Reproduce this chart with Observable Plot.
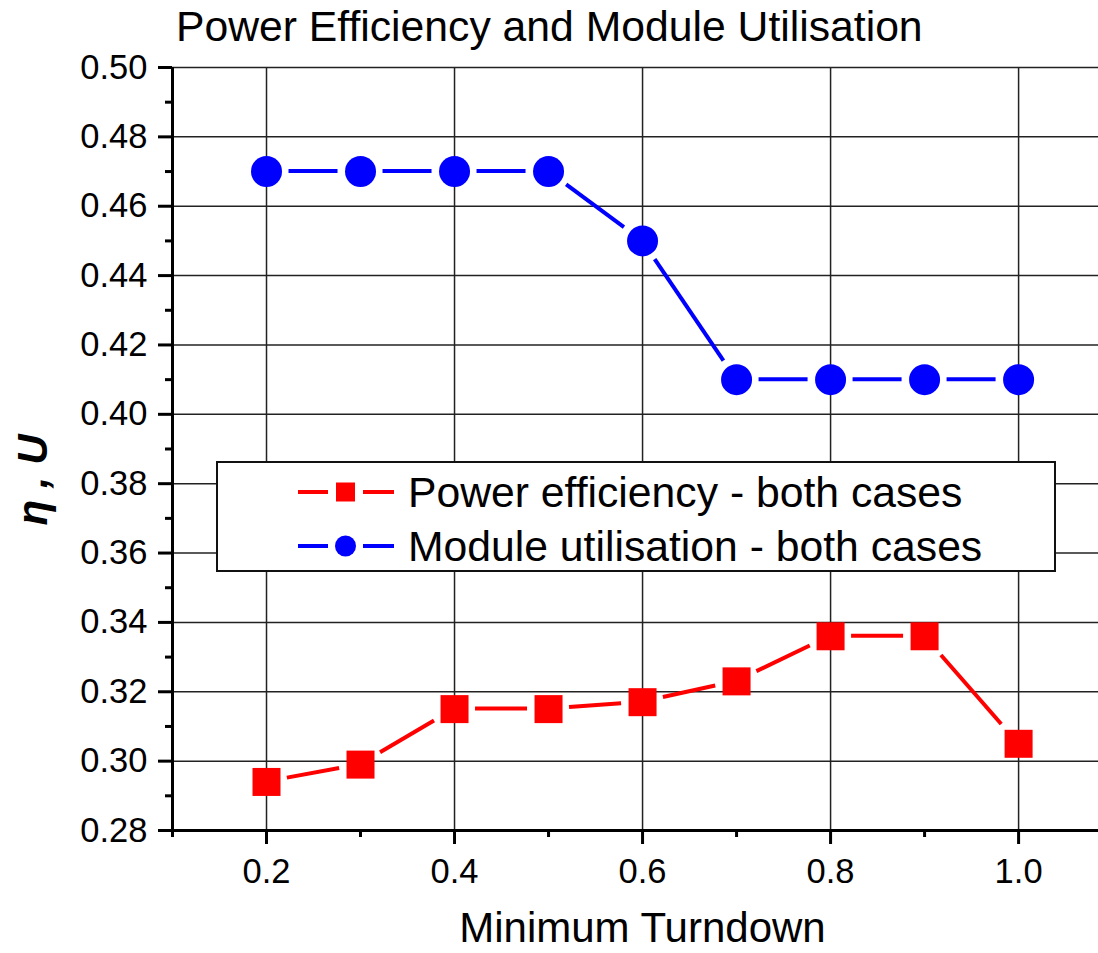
<!DOCTYPE html>
<html><head><meta charset="utf-8">
<script src="https://cdn.jsdelivr.net/npm/d3@7"></script>
<script src="https://cdn.jsdelivr.net/npm/@observablehq/plot@0.6"></script>
<style>
body{margin:0;background:#fff;}
#wrap{position:relative;width:1098px;height:953px;overflow:hidden;font-family:"Liberation Sans",Arial,sans-serif;background:#fff;}
#title{position:absolute;left:176px;top:5px;font-size:42.7px;line-height:1;white-space:nowrap;color:#000;}
#chart{position:absolute;left:0;top:55px;}
#overlay{position:absolute;left:0;top:0;pointer-events:none;}
</style></head><body>
<div id="wrap">
  <div id="title">Power Efficiency and Module Utilisation</div>
  <div id="chart"></div>
  <svg id="overlay" width="1098" height="953" xmlns="http://www.w3.org/2000/svg"></svg>
</div>
<script>
// ---- data ----
const turndown = [0.2, 0.3, 0.4, 0.5, 0.6, 0.7, 0.8, 0.9, 1.0];
const powerEfficiency = [0.294, 0.299, 0.315, 0.315, 0.317, 0.323, 0.336, 0.336, 0.305];
const moduleUtilisation = [0.47, 0.47, 0.47, 0.47, 0.45, 0.41, 0.41, 0.41, 0.41];
const seriesNames = ["Power efficiency - both cases", "Module utilisation - both cases"];
const xMajorTicks = [0.2, 0.4, 0.6, 0.8, 1.0];
const xMinorTicks = [0.1, 0.3, 0.5, 0.7, 0.9];
const yMajorTicks = [0.28, 0.30, 0.32, 0.34, 0.36, 0.38, 0.40, 0.42, 0.44, 0.46, 0.48, 0.50];
const yMinorTicks = [0.29, 0.31, 0.33, 0.35, 0.37, 0.39, 0.41, 0.43, 0.45, 0.47, 0.49];
const yGrid = [0.30, 0.32, 0.34, 0.36, 0.38, 0.40, 0.42, 0.44, 0.46, 0.48, 0.50];
const titleText = "Power Efficiency and Module Utilisation";
const xLabel = "Minimum Turndown";
const yLabel = "η , U";

const rows = turndown.map((t, i) => ({t, pe: powerEfficiency[i], mu: moduleUtilisation[i]}));
const RED = "#ff0000", BLUE = "#0000ff";
const NS = "http://www.w3.org/2000/svg";

// line between markers with a small gap around each marker (Origin style)
function gappedLine(xs, ys, {stroke, strokeWidth, halfSize, shape, gap}) {
  return (index, scales, values, dimensions, context) => {
    const doc = (context && context.document) || document;
    const g = doc.createElementNS(NS, "g");
    const pts = xs.map((x, i) => [scales.x(x), scales.y(ys[i])]);
    for (let i = 0; i < pts.length - 1; i++) {
      const [x0, y0] = pts[i], [x1, y1] = pts[i + 1];
      const dx = x1 - x0, dy = y1 - y0, L = Math.hypot(dx, dy);
      const ux = dx / L, uy = dy / L;
      const edge = shape === "square" ? halfSize / Math.max(Math.abs(ux), Math.abs(uy)) : halfSize;
      const off = edge + gap;
      if (L <= 2 * off) continue;
      const ln = doc.createElementNS(NS, "line");
      ln.setAttribute("x1", x0 + ux * off);
      ln.setAttribute("y1", y0 + uy * off);
      ln.setAttribute("x2", x1 - ux * off);
      ln.setAttribute("y2", y1 - uy * off);
      ln.setAttribute("stroke", stroke);
      ln.setAttribute("stroke-width", strokeWidth);
      g.appendChild(ln);
    }
    return g;
  };
}

function build(useCustom) {
  const lineMarks = useCustom ? [
    gappedLine(turndown, powerEfficiency, {stroke: RED, strokeWidth: 4, halfSize: 14, shape: "square", gap: 7}),
    gappedLine(turndown, moduleUtilisation, {stroke: BLUE, strokeWidth: 4, halfSize: 15.5, shape: "circle", gap: 7})
  ] : [
    Plot.line(rows, {x: "t", y: "pe", stroke: RED, strokeWidth: 4}),
    Plot.line(rows, {x: "t", y: "mu", stroke: BLUE, strokeWidth: 4}),
    Plot.dot(rows, {x: "t", y: "pe", symbol: "square", r: 24, fill: "white"}),
    Plot.dot(rows, {x: "t", y: "mu", r: 22.5, fill: "white"})
  ];
  return Plot.plot({
    width: 1098, height: 898,
    marginLeft: 172, marginRight: 0, marginTop: 12, marginBottom: 123,
    x: {domain: [0.1, 1.085]},
    y: {domain: [0.28, 0.50]},
    style: {fontFamily: '"Liberation Sans", Arial, sans-serif', background: "transparent", color: "#000", overflow: "visible"},
    marks: [
      Plot.ruleY(yGrid, {stroke: "#222", strokeWidth: 1.5}),
      Plot.ruleX(xMajorTicks, {stroke: "#222", strokeWidth: 1.5}),
      ...lineMarks,
      Plot.dot(rows, {x: "t", y: "pe", symbol: "square", r: 15.8, fill: RED}),
      Plot.dot(rows, {x: "t", y: "mu", r: 15.5, fill: BLUE}),
      Plot.ruleX([0.1], {stroke: "#000", strokeWidth: 3}),
      Plot.ruleY([0.28], {stroke: "#000", strokeWidth: 3}),
      Plot.axisY({ticks: yMajorTicks, anchor: "left", tickSize: 14, tickPadding: 11, tickFormat: d => d.toFixed(2), fontSize: 34.5, strokeWidth: 3, label: null}),
      Plot.axisY({ticks: yMinorTicks, anchor: "left", tickSize: 7, tickFormat: () => "", strokeWidth: 3, label: null}),
      Plot.axisX({ticks: xMajorTicks, anchor: "bottom", tickSize: 14, tickPadding: 14, tickFormat: d => d.toFixed(1), fontSize: 34.5, strokeWidth: 3, label: null}),
      Plot.axisX({ticks: xMinorTicks, anchor: "bottom", tickSize: 7, tickFormat: () => "", strokeWidth: 3, label: null})
    ]
  });
}

let chart;
try { chart = build(true); } catch (e) { console.error(e); chart = build(false); }
document.getElementById("chart").appendChild(chart);
document.getElementById("title").textContent = titleText;

// ---- legend and axis titles (overlay) ----
const ov = document.getElementById("overlay");
ov.innerHTML = `
  <rect x="217" y="462" width="838" height="109" fill="#fff" stroke="#111" stroke-width="2"/>
  <line x1="298" y1="492" x2="328" y2="492" stroke="${RED}" stroke-width="4"/>
  <line x1="363" y1="492" x2="394" y2="492" stroke="${RED}" stroke-width="4"/>
  <rect x="336" y="482.5" width="19" height="19" fill="${RED}"/>
  <text x="408" y="507" font-size="42.7" font-family="Liberation Sans, Arial, sans-serif" fill="#000">${seriesNames[0]}</text>
  <line x1="298" y1="546" x2="328" y2="546" stroke="${BLUE}" stroke-width="4"/>
  <line x1="363" y1="546" x2="394" y2="546" stroke="${BLUE}" stroke-width="4"/>
  <circle cx="345.5" cy="546" r="10.5" fill="${BLUE}"/>
  <text x="408" y="561" font-size="42.7" font-family="Liberation Sans, Arial, sans-serif" fill="#000">${seriesNames[1]}</text>
  <text x="642.5" y="942" text-anchor="middle" font-size="42" font-family="Liberation Sans, Arial, sans-serif" fill="#000">${xLabel}</text>
  <text transform="translate(47,480) rotate(-90)" text-anchor="middle" font-size="42" font-weight="bold" font-style="italic" font-family="Liberation Sans, Arial, sans-serif" fill="#000">${yLabel}</text>
`;
</script>
</body></html>
